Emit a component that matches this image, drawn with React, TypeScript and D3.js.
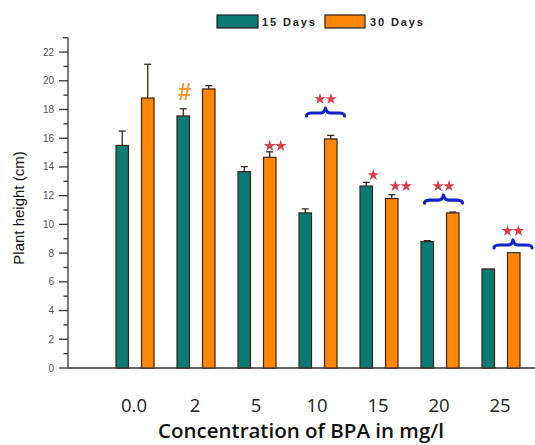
import React from "react";
import * as d3 from "d3";

const categories = ["0.0", "2", "5", "10", "15", "20", "25"];
const series = ["15 Days", "30 Days"];
const days15 = [15.5, 17.55, 13.67, 10.8, 12.67, 8.8, 6.9];
const days15Err = [1.0, 0.5, 0.35, 0.28, 0.26, 0.07, 0.0];
const days30 = [18.8, 19.43, 14.67, 15.95, 11.8, 10.8, 8.03];
const days30Err = [2.35, 0.23, 0.38, 0.25, 0.27, 0.06, 0.0];
const yTicks = [0, 2, 4, 6, 8, 10, 12, 14, 16, 18, 20, 22];
// significance annotations: category, which series it is over, marker, level (value at marker centre)
const annoCats = ["2", "5", "10", "15", "15", "20", "25"];
const annoOver = ["15", "30", "both", "15", "30", "both", "both"];
const annoText = ["#", "**", "**", "*", "**", "**", "**"];
const annoValue = [19.22, 15.53, 18.8, 13.5, 12.74, 12.74, 9.61];
// horizontal nudges (layout only)
const annoDx = [1.5, 5.5, 7.5, 7, 9, 3.5, 12];

const W = 535, H = 445;
const TEAL = "#0b7a72";
const ORANGE = "#ff8505";
const OUTLINE = "#3b2418";
const STAR = "#d9404e";
const BRACE = "#1622c8";

const starPath = d3.symbol().type(d3.symbolStar).size(42)() as string;

function Stars({ cx, cy, n }: { cx: number; cy: number; n: number }) {
  const gap = 11;
  const start = cx - ((n - 1) * gap) / 2;
  return (
    <g fill={STAR}>
      {d3.range(n).map((k) => (
        <path key={k} d={starPath} transform={`translate(${start + k * gap},${cy + 1})`} />
      ))}
    </g>
  );
}

export default function App() {
  const y = d3.scaleLinear().domain([0, 23]).range([368, 37.7]);
  const x = d3.scaleBand().domain(categories).range([116, 520]).paddingInner(0.377).paddingOuter(0);
  const xi = d3.scaleBand().domain(["15", "30"]).range([0, x.bandwidth()]).paddingInner(0.51);
  const minor = d3.range(1, 23, 2);
  const bw = xi.bandwidth();

  const bars: any[] = [];
  categories.forEach((c, i) => {
    [["15", days15[i], days15Err[i], TEAL], ["30", days30[i], days30Err[i], ORANGE]].forEach(([s, v, e, col]: any) => {
      const bx = (x(c) as number) + (xi(s) as number);
      const top = y(v);
      bars.push(
        <g key={c + s}>
          {e > 0 && (
            <g stroke={OUTLINE} strokeWidth={1.3}>
              <line x1={bx + bw / 2} x2={bx + bw / 2} y1={top} y2={y(v + e)} />
              <line x1={bx + bw / 2 - 3.5} x2={bx + bw / 2 + 3.5} y1={y(v + e)} y2={y(v + e)} />
            </g>
          )}
          <rect x={bx} y={top} width={bw} height={y(0) - top} fill={col} stroke={OUTLINE} strokeWidth={1.2} />
        </g>
      );
    });
  });

  const annos = annoCats.map((c, i) => {
    const over = annoOver[i];
    const gx = x(c) as number;
    const base = over === "both" ? gx + x.bandwidth() / 2 : gx + (xi(over) as number) + bw / 2;
    const cx = base + annoDx[i];
    const cy = y(annoValue[i]);
    if (annoText[i] === "#") {
      return (
        <text key={i} x={cx} y={cy + 8} textAnchor="middle" fill="#f0962a" fontSize={23} fontFamily="Liberation Sans, Arial" fontWeight="bold">#</text>
      );
    }
    const n = annoText[i].length;
    if (over === "both") {
      const half = 19;
      const l = cx - half, r = cx + half, by = cy + 15;
      const d = `M${l},${by + 3} Q${l},${by} ${l + 6},${by} L${cx - 5},${by} Q${cx - 1},${by} ${cx},${by - 5} Q${cx + 1},${by} ${cx + 5},${by} L${r - 6},${by} Q${r},${by} ${r},${by + 3}`;
      return (
        <g key={i}>
          <path d={d} fill="none" stroke={BRACE} strokeWidth={3.2} strokeLinecap="round" strokeLinejoin="round" />
          <Stars cx={cx} cy={cy} n={n} />
        </g>
      );
    }
    return <Stars key={i} cx={cx} cy={cy} n={n} />;
  });

  return (
    <svg width={W} height={H} style={{ position: "absolute", left: 0, top: 0, background: "#fff" }}>
      {/* legend */}
      <g fontFamily="Liberation Sans, Arial" fontWeight="bold" fontSize={11} fill="#222">
        <rect x={217} y={15} width={41} height={13} fill={TEAL} stroke="#222" strokeWidth={1.2} />
        <text x={262} y={26} letterSpacing={1.9}>{series[0]}</text>
        <rect x={325} y={15} width={40} height={13} fill={ORANGE} stroke="#222" strokeWidth={1.2} />
        <text x={370} y={26} letterSpacing={1.9}>{series[1]}</text>
      </g>
      {/* y axis */}
      <g stroke="#333" strokeWidth={1.3}>
        <line x1={68} x2={68} y1={y(23)} y2={y(0)} />
        {yTicks.map((t) => <line key={t} x1={59} x2={68} y1={y(t)} y2={y(t)} />)}
        {minor.map((t) => <line key={"m" + t} x1={63.5} x2={68} y1={y(t)} y2={y(t)} />)}
        <line x1={63} x2={68} y1={y(23)} y2={y(23)} />
        <line x1={68} x2={535} y1={y(0)} y2={y(0)} />
      </g>
      <g fontFamily="Liberation Sans, Arial" fontSize={10} fill="#555" textAnchor="end">
        {yTicks.map((t) => <text key={t} x={54} y={y(t) + 3.5}>{t}</text>)}
      </g>
      <text transform={`translate(24,208) rotate(-90)`} textAnchor="middle" fontFamily="Liberation Sans, Arial" fontSize={15} fill="#111">Plant height (cm)</text>
      {bars}
      {annos}
      {/* x labels */}
      <g fontFamily="Open Sans, Lato" fontSize={18.5} fill="#222" textAnchor="middle">
        {categories.map((c) => <text key={c} x={(x(c) as number) + x.bandwidth() / 2 - 1} y={412}>{c}</text>)}
      </g>
      <text x={301} y={438} textAnchor="middle" fontFamily="Open Sans, Lato" fontWeight="600" fontSize={20.5} fill="#111">Concentration of BPA in mg/l</text>
    </svg>
  );
}
